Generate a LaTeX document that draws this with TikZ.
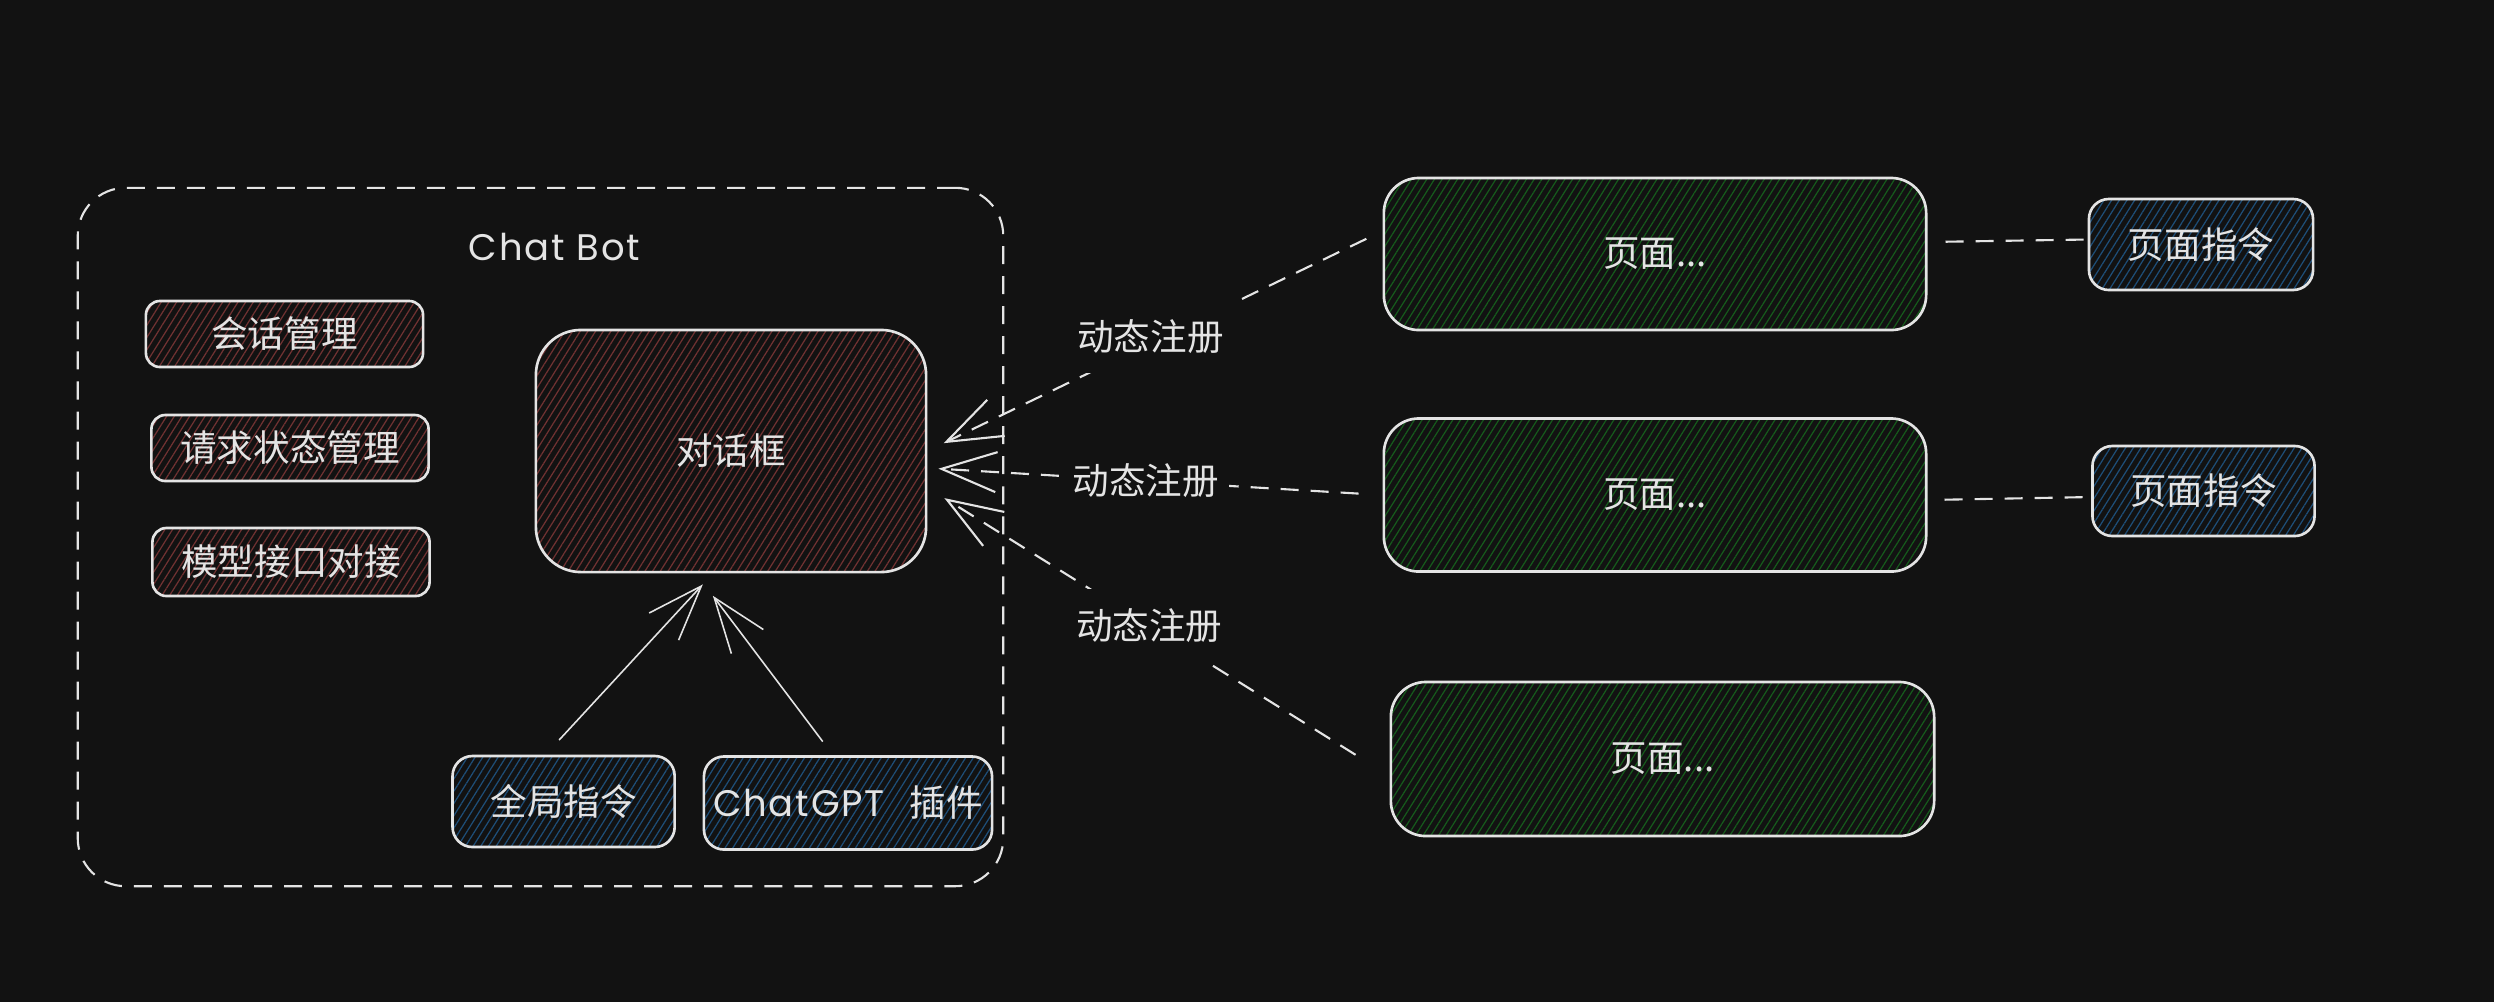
\documentclass[tikz,border=0pt]{standalone}
\usepackage{fontspec}
\setmainfont{Noto Sans CJK SC}
\newfontfamily\handfont[LetterSpace=5.0]{Poppins}
\usetikzlibrary{arrows.meta,patterns.meta,calc}

\definecolor{bg}{HTML}{121212}
\definecolor{ink}{RGB}{228,228,228}
\definecolor{hred}{RGB}{112,50,50}
\definecolor{hblue}{RGB}{30,78,120}
\definecolor{hgreen}{RGB}{22,90,28}

\tikzset{
  box/.style={draw=ink,line width=0.75pt,text=ink,inner sep=0pt,rounded corners=0.14cm},
  hatch/.style={pattern={Lines[angle=58,distance=0.065cm,line width=0.35pt]},pattern color=#1},
  dashline/.style={draw=ink,line width=0.6pt,dash pattern=on 0.18cm off 0.12cm},
  lbl/.style={fill=bg,text=ink,inner xsep=0.1cm,inner ysep=0.2cm},
  barb/.style={->,draw=ink,line width=0.45pt,line join=round}
}

\begin{document}
\begin{tikzpicture}[x=0.01cm,y=-0.01cm,font=\fontsize{10.4pt}{12pt}\selectfont,
  >={Straight Barb[length=0.55cm,width=0.4cm]}]
  \fill[bg] (0,0) rectangle (2494,1002);
  \useasboundingbox (0,0) rectangle (2494,1002);

  % Chat Bot 外框
  \node[dashline,rounded corners=0.48cm,minimum width=9.25cm,minimum height=6.98cm] (bot) at (540.5,537) {};
  \node[text=ink,font=\handfont\fontsize{10.5pt}{12pt}\selectfont] (bottitle) at (554.5,247) {Chat Bot};

  % 左侧三个管理模块
  \node[box,hatch=hred,minimum width=2.77cm,minimum height=0.66cm] (sess) at (284.5,334) {会话管理};
  \node[box,hatch=hred,minimum width=2.77cm,minimum height=0.66cm] (req) at (290,448) {请求状态管理};
  \node[box,hatch=hred,minimum width=2.77cm,minimum height=0.68cm] (model) at (291,562) {模型接口对接};

  % 对话框
  \node[box,hatch=hred,rounded corners=0.45cm,minimum width=3.9cm,minimum height=2.42cm] (dlg) at (731,451) {对话框};

  % 全局指令 / 插件
  \node[box,hatch=hblue,rounded corners=0.2cm,minimum width=2.22cm,minimum height=0.91cm] (gcmd) at (563.6,801.5) {全局指令};
  \node[box,hatch=hblue,rounded corners=0.2cm,minimum width=2.88cm,minimum height=0.93cm] (plugin) at (848,803)
    {{\handfont\fontsize{10.5pt}{12pt}\selectfont ChatGPT}\hspace{0.25cm}插件};
  \draw[barb,shorten <=0.2cm,shorten >=0.15cm] ([xshift=-0.18cm]gcmd.north) -- ([xshift=-0.18cm]dlg.south);
  \draw[barb,shorten <=0.17cm,shorten >=0.28cm] ([xshift=-0.15cm]plugin.north) -- ([xshift=-0.35cm]dlg.south);

  % 页面
  \node[box,hatch=hgreen,rounded corners=0.35cm,minimum width=5.42cm,minimum height=1.52cm] (page1) at (1655,254) {页面...};
  \node[box,hatch=hgreen,rounded corners=0.35cm,minimum width=5.42cm,minimum height=1.53cm] (page2) at (1655,495) {页面...};
  \node[box,hatch=hgreen,rounded corners=0.35cm,minimum width=5.43cm,minimum height=1.54cm] (page3) at (1662.5,759) {页面...};

  % 页面指令
  \node[box,hatch=hblue,rounded corners=0.2cm,minimum width=2.24cm,minimum height=0.91cm] (pcmd1) at (2201,244.5) {页面指令};
  \node[box,hatch=hblue,rounded corners=0.2cm,minimum width=2.22cm,minimum height=0.9cm] (pcmd2) at (2203.5,491) {页面指令};
  \draw[dashline,shorten <=0.18cm] ([yshift=0.12cm]page1.east) -- ([yshift=0.05cm]pcmd1.west);
  \draw[dashline,shorten <=0.17cm] ([yshift=-0.05cm]page2.east) -- ([yshift=-0.06cm]pcmd2.west);

  % 动态注册
  \draw[dashline,->,shorten <=0.18cm,shorten >=0.18cm] ([yshift=0.23cm]page1.west) -- (dlg.east)
    node[lbl,pos=0.51,yshift=0.07cm] (reg1) {动态注册};
  \draw[dashline,->,shorten <=0.24cm,shorten >=0.11cm] (page2.west) -- ([yshift=-0.17cm]dlg.east)
    node[lbl,pos=0.52] (reg2) {动态注册};
  \draw[dashline,->,shorten <=0.4cm,shorten >=0.2cm] ([yshift=-0.17cm]page3.west) -- ([yshift=-0.365cm]dlg.east)
    node[lbl,pos=0.52] (reg3) {动态注册};
\end{tikzpicture}
\end{document}
